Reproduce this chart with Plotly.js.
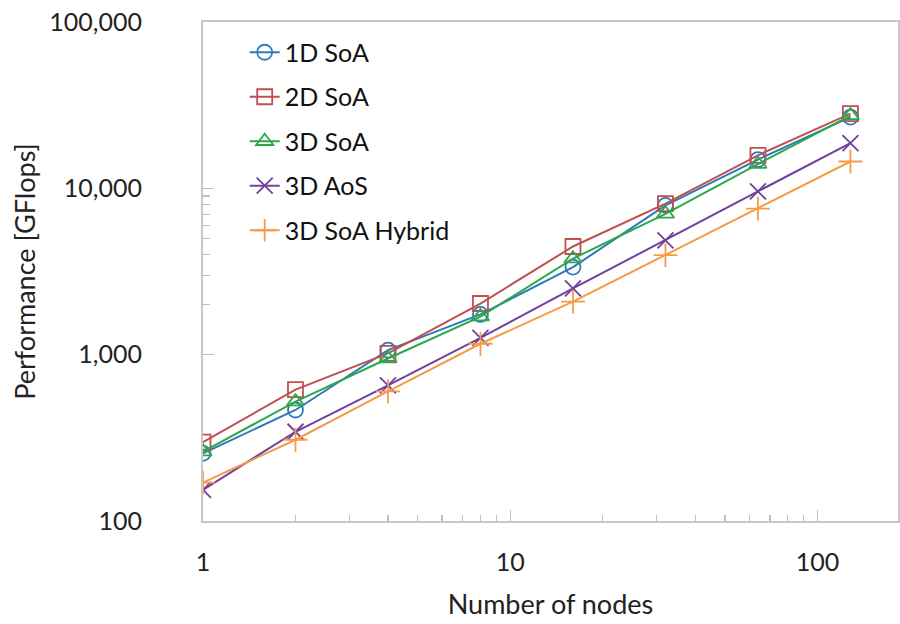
<!DOCTYPE html>
<html><head><meta charset="utf-8">
<script src="https://cdn.plot.ly/plotly-3.0.1.min.js"></script>
<style>html,body{margin:0;padding:0;background:#fff}#chart{width:900px;height:624px}</style>
</head><body><div id="chart"></div>
<script>
const nodes = [1, 2, 4, 8, 16, 32, 64, 128];
const soa1D = [255, 465, 1065, 1745, 3360, 7900, 14900, 26800];
const soa2D = [298, 616, 1018, 2030, 4470, 8100, 15800, 28100];
const soa3D = [261, 522, 948, 1695, 3780, 7030, 14000, 27400];
const aos3D = [154, 344, 653, 1262, 2500, 4870, 9590, 18700];
const soa3DHybrid = [170, 308, 602, 1163, 2083, 3970, 7560, 14500];
const seriesNames = ["1D SoA", "2D SoA", "3D SoA", "3D AoS", "3D SoA Hybrid"];
const yTickVals = [100, 1000, 10000, 100000];
const yTickText = ["100", "1,000", "10,000", "100,000"];
const xTickVals = [1, 10, 100];
const xTickText = ["1", "10", "100"];

const colors = ["#2E78BE", "#C0504D", "#2AA84A", "#7040A0", "#F79A46"];
const symbols = ["circle-open", "square-open", "triangle-up-open", "x-thin-open", "cross-thin-open"];
const sizes = [15, 15, 15, 16, 17];
const data = [soa1D, soa2D, soa3D, aos3D, soa3DHybrid].map((ys, i) => ({
  x: nodes, y: ys, name: seriesNames[i], type: 'scatter', mode: 'lines+markers',
  legendgroup: 'g' + i,
  line: {color: colors[i], width: 2},
  marker: {symbol: symbols[i], size: sizes[i], color: colors[i], line: {color: colors[i], width: 1.8}}
}));

const font = {family: 'Lato, "Open Sans", sans-serif', color: '#222', size: 25};
const layout = {
  width: 900, height: 624,
  margin: {l: 203, r: 2, t: 22, b: 103},
  paper_bgcolor: '#fff', plot_bgcolor: '#fff',
  font: font,
  showlegend: true,
  legend: {x: 0.06, y: 0.985, xanchor: 'left', yanchor: 'top', bgcolor: 'rgba(0,0,0,0)',
    font: {family: font.family, size: 25, color: '#111'}, tracegroupgap: 9, itemwidth: 30},
  xaxis: {
    type: 'log', range: [0, 2.262],
    tickmode: 'array', tickvals: xTickVals, ticktext: xTickText,
    ticks: 'inside', ticklen: 11, tickcolor: '#BFBFBF', tickwidth: 1.3,
    minor: {tickmode: 'array', tickvals: [2,3,4,5,6,7,8,9,20,30,40,50,60,70,80,90], ticks: 'inside', ticklen: 6, tickcolor: '#BFBFBF', tickwidth: 1.2},
    showgrid: false, zeroline: false,
    showline: true, mirror: true, linecolor: '#C8C8C8', linewidth: 2,
    ticklabelstandoff: 18,
    title: {text: 'Number of nodes', font: {size: 27, family: font.family, color: '#222'}, standoff: 20}
  },
  yaxis: {
    type: 'log', range: [2, 5],
    tickmode: 'array', tickvals: yTickVals, ticktext: yTickText,
    ticks: 'inside', ticklen: 11, tickcolor: '#BFBFBF', tickwidth: 1.3,
    minor: {tickmode: 'array', tickvals: [2000,3000,4000,5000,6000,7000,8000,9000], ticks: 'inside', ticklen: 7, tickcolor: '#BFBFBF', tickwidth: 1.2},
    showgrid: false, zeroline: false,
    showline: true, mirror: true, linecolor: '#C8C8C8', linewidth: 2,
    ticklabelstandoff: 54,
    title: {text: 'Performance [GFlops]', font: {size: 27, family: font.family, color: '#222'}, standoff: 6}
  }
};
Plotly.newPlot('chart', data, layout, {displayModeBar: false, staticPlot: true});
</script></body></html>
